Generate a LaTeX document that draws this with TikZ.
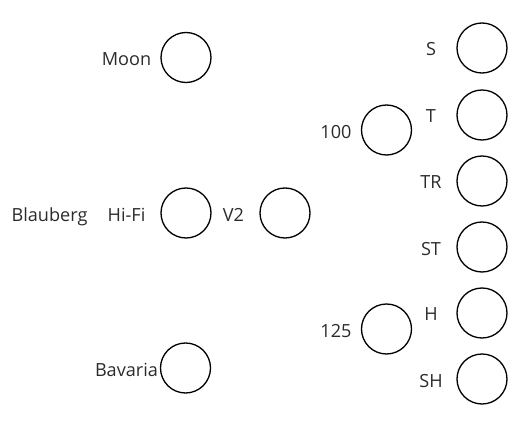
\documentclass[tikz,border=0pt]{standalone}
\usepackage{fontspec}
\setmainfont{Open Sans}
\usepackage{xcolor}
\definecolor{labelgray}{HTML}{2B2B2B}
\tikzset{
    slot/.style = {
        circle,
        draw            = black,
        line width      = 0.75pt,
        minimum size    = 1cm,
        inner sep       = 0pt,
    },
    tag/.style = {
        anchor          = base,
        inner sep       = 0pt,
        text            = labelgray,
        font            = \fontsize{10.3}{12}\selectfont,
    }
}
\begin{document}
\begin{tikzpicture}
  \useasboundingbox (0,0) rectangle (10.42,8.52);

  % Left column
  \node[slot] (Moon) at (3.72,7.37) {};
  \node[slot] (HiFi) at (3.72,4.26) {};
  \node[slot] (Bavaria) at (3.71,1.16) {};
  \node[tag] (MoonLabel) at (2.53,7.20) {Moon};
  \node[tag] (HiFiLabel) at (2.53,4.09) {Hi-Fi};
  \node[tag] (BavariaLabel) at (2.53,0.99) {Bavaria};
  \node[tag] (BlaubergLabel) at (0.99,4.09) {Blauberg};

  % V2
  \node[slot] (VTwo) at (5.70,4.26) {};
  \node[tag] (VTwoLabel) at (4.67,4.09) {V2};

  % 100 and 125
  \node[slot] (Hundred) at (7.73,5.92) {};
  \node[slot] (HundredTwentyFive) at (7.73,1.94) {};
  \node[tag] (HundredLabel) at (6.72,5.75) {100};
  \node[tag] (HundredTwentyFiveLabel) at (6.72,1.77) {125};

  % Right column
  \node[slot] (S) at (9.64,7.56) {};
  \node[slot] (T) at (9.64,6.22) {};
  \node[slot] (TR) at (9.64,4.90) {};
  \node[slot] (ST) at (9.64,3.58) {};
  \node[slot] (H) at (9.64,2.26) {};
  \node[slot] (SH) at (9.64,0.94) {};
  \node[tag] (SLabel) at (8.62,7.40) {S};
  \node[tag] (TLabel) at (8.62,6.07) {T};
  \node[tag] (TRLabel) at (8.62,4.74) {TR};
  \node[tag] (STLabel) at (8.62,3.41) {ST};
  \node[tag] (HLabel) at (8.62,2.11) {H};
  \node[tag] (SHLabel) at (8.62,0.77) {SH};

\end{tikzpicture}
\end{document}
